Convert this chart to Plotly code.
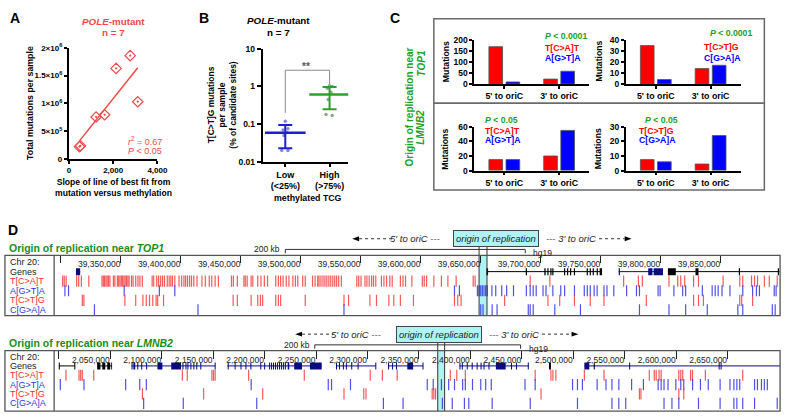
import numpy as np
import plotly.graph_objects as go

# ===================== DATA =====================
# Panel A
a_slope = [480, 520, 1230, 1615, 2133, 2770, 3111]
a_total = [2.20e5, 2.35e5, 7.55e5, 7.95e5, 1.63e6, 1.86e6, 1.03e6]
a_r2 = "0.67"
a_p = "0.05"
a_xticks = [0, 2000, 4000]
a_xticklabels = ["0", "2,000", "4,000"]
a_yticks = [0, 5e5, 1e6, 1.5e6, 2e6]
a_yticklabels = ["0", "5×10<sup>5</sup>", "1×10<sup>6</sup>", "1.5×10<sup>6</sup>", "2×10<sup>6</sup>"]

# Panel B
b_groups = ["Low<br>(&lt;25%)", "High<br>(&gt;75%)"]
b_low = [0.12, 0.075, 0.07, 0.06, 0.05, 0.02, 0.02]
b_high = [1.05, 1.0, 0.9, 0.7, 0.45, 0.18, 0.17]
b_mean = [0.059, 0.61]
b_sd = [0.036, 0.36]
b_yticks = [0.01, 0.1, 1, 10]
b_yticklabels = ["0.01", "0.1", "1", "10"]

# Panel C
c_cats = ["5' to oriC", "3' to oriC"]
c_top1_tcat = [170, 22]
c_top1_agta = [9, 58]
c_top1_tctg = [35, 14]
c_top1_cgaa = [4, 17]
c_lmnb2_tcat = [15, 20]
c_lmnb2_agta = [15, 55]
c_lmnb2_tctg = [7.5, 4.5]
c_lmnb2_cgaa = [6, 24]
c_ticks_tl = [0, 50, 100, 150, 200]
c_ticks_tr = [0, 10, 20, 30, 40]
c_ticks_bl = [0, 20, 40, 60]
c_ticks_br = [0, 10, 20, 30]

# Panel D (positions in kb on chr 20)
d_row_labels = ["Chr 20:", "Genes", "T[C&gt;A]T", "A[G&gt;T]A", "T[C&gt;T]G", "C[G&gt;A]A"]
top_ticks = [39300, 39350, 39400, 39450, 39500, 39550, 39600, 39650, 39700, 39750, 39800, 39850]
bot_ticks = [2000, 2050, 2100, 2150, 2200, 2250, 2300, 2350, 2400, 2450, 2500, 2550, 2600, 2650]
top_origin = [39648.5, 39655.1]
bot_origin = [2368.3, 2375.0]
top_scale_start = 39487
bot_scale_start = 2248.8

top_tcat = [39301.4, 39302.7, 39304.3, 39313.1, 39314.8, 39317.0, 39323.2, 39334.2, 39335.3, 39336.3,
            39337.5, 39338.5, 39339.6, 39340.8, 39343.7, 39344.9, 39347.0, 39348.1, 39349.2, 39350.3,
            39351.4, 39352.5, 39353.5, 39354.7, 39355.8, 39356.8, 39358.8, 39360.1, 39362.3, 39364.2,
            39365.8, 39367.8, 39376.0, 39377.3, 39379.8, 39381.4, 39383.1, 39384.7, 39386.3, 39388.6,
            39390.2, 39391.6, 39392.9, 39394.9, 39398.4, 39400.6, 39402.5, 39403.9, 39405.5, 39407.2,
            39408.8, 39410.7, 39413.4, 39417.5, 39420.3, 39423.6, 39425.7, 39428.5, 39431.2, 39442.1,
            39443.7, 39447.0, 39452.5, 39453.6, 39455.2, 39458.5, 39459.9, 39464.0, 39466.7, 39469.5,
            39472.2, 39479.0, 39481.2, 39483.1, 39485.1, 39487.8, 39490.0, 39493.3, 39495.4, 39497.4,
            39501.5, 39503.6, 39509.7, 39511.8, 39514.0, 39515.1, 39516.7, 39518.4, 39520.0, 39521.6,
            39523.3, 39524.9, 39526.6, 39528.2, 39529.8, 39531.5, 39533.7, 39546.6, 39548.2, 39550.1,
            39553.4, 39555.0, 39556.9, 39558.9, 39560.5, 39562.4, 39567.1, 39569.2, 39571.4, 39574.1,
            39576.1, 39582.9, 39585.1, 39587.2, 39592.5, 39601.2, 39602.8, 39604.8, 39610.8, 39617.1,
            39622.5, 39629.4, 39643.6, 39645.2, 39691.1, 39707.5, 39769.0, 39781.3, 39784.6, 39806.8,
            39814.1, 39816.6, 39819.9, 39827.3, 39831.4, 39851.9, 39865.8, 39868.3, 39875.6, 39878.1,
            39880.6, 39886.3, 39890.4, 39897.0]
top_agta = [39303.3, 39306.3, 39352.7, 39382.0, 39394.9, 39628.0, 39632.1, 39647.1, 39648.5, 39649.9,
            39651.2, 39652.6, 39654.0, 39655.3, 39659.2, 39662.4, 39667.4, 39671.5, 39677.2, 39687.9,
            39691.1, 39693.6, 39696.1, 39701.8, 39704.3, 39710.0, 39716.6, 39719.8, 39728.0, 39736.2,
            39738.7, 39741.2, 39744.4, 39746.9, 39752.6, 39755.1, 39760.8, 39771.5, 39779.7, 39782.2,
            39797.7, 39799.4, 39810.9, 39818.2, 39820.7, 39834.6, 39842.8, 39845.3, 39847.8, 39851.0,
            39857.6, 39868.3, 39876.5, 39879.7, 39882.2, 39894.5, 39896.1]
top_tctg = [39317.8, 39319.1, 39353.3, 39362.3, 39368.3, 39371.1, 39373.8, 39376.5, 39379.3, 39380.6,
            39385.5, 39443.5, 39447.0, 39458.5, 39464.0, 39466.2, 39468.1, 39479.0, 39481.2, 39483.1,
            39503.6, 39535.9, 39539.7, 39557.5, 39563.0, 39573.3, 39577.4, 39582.9, 39593.8, 39628.0,
            39630.7, 39633.5, 39669.8, 39705.9, 39715.7, 39728.0, 39741.2, 39752.6, 39787.9, 39827.3,
            39831.4, 39835.5, 39865.8, 39867.4, 39876.5]
top_cgaa = [39327.9, 39414.2, 39535.9, 39649.9, 39651.8, 39659.4, 39663.5, 39689.5, 39691.1, 39693.6,
            39711.6, 39733.0, 39782.2, 39806.8, 39820.7, 39838.7, 39864.2, 39868.3, 39892.9, 39895.3]

bot_tcat = [2007.0, 2019.7, 2021.3, 2022.9, 2034.0, 2120.1, 2124.9, 2148.8, 2150.4, 2152.0, 2184.5,
            2238.6, 2302.7, 2314.5, 2328.9, 2380.5, 2386.8, 2395.1, 2463.0, 2478.3, 2480.2, 2483.1,
            2510.8, 2529.9, 2573.9, 2578.7, 2580.6, 2583.4, 2585.4, 2602.6, 2604.5, 2606.4, 2614.0,
            2615.9, 2628.4, 2664.7]
bot_agta = [2001.5, 2024.5, 2065.0, 2078.7, 2085.1, 2187.0, 2261.9, 2265.1, 2283.5, 2358.1, 2363.9,
            2371.9, 2378.9, 2384.6, 2392.5, 2395.1, 2402.1, 2410.1, 2414.9, 2420.3, 2453.1, 2463.0,
            2499.3, 2504.1, 2508.9, 2523.2, 2531.8, 2537.6, 2544.3, 2556.7, 2568.2, 2582.5, 2585.4,
            2588.2, 2592.1, 2599.7, 2604.5, 2607.4, 2616.0, 2623.6, 2631.2, 2642.7, 2652.3, 2656.1,
            2659.0, 2661.8, 2676.2, 2679.0, 2682.9, 2685.7, 2688.6]
bot_tctg = [2081.3, 2140.8, 2198.2, 2277.2, 2296.4, 2298.6, 2362.9, 2364.5, 2366.2, 2468.7, 2564.3,
            2565.8, 2602.6, 2607.4]
bot_cgaa = [2082.5, 2121.0, 2192.4, 2315.5, 2334.6, 2372.8, 2382.4, 2394.2, 2398.5, 2421.2, 2458.2,
            2504.1, 2537.6, 2544.3, 2551.0, 2588.2, 2595.9, 2602.6, 2621.7, 2642.7, 2656.1, 2659.0,
            2664.7, 2676.2, 2698.2]

# genes: (start, end, colour key), exons as (start, end)
top_gene_spans = [(39312.5, 39316.0, "navy"), (39655.1, 39751.0, "black"),
                  (39764.9, 39801.8, "navy"), (39805.9, 39899.0, "black")]
top_gene_exons = [
    [(39312.5, 39316.0)],
    [(39654.6, 39656.0), (39687.4, 39688.4), (39702.9, 39704.0), (39705.4, 39706.4), (39707.9, 39708.9),
     (39709.5, 39710.5), (39719.3, 39720.3), (39721.8, 39722.8), (39724.3, 39725.3), (39727.5, 39728.5),
     (39738.2, 39739.2), (39740.7, 39741.7), (39743.2, 39744.2), (39746.5, 39747.5), (39749.0, 39751.0)],
    [(39764.9, 39765.9), (39789.5, 39793.0), (39794.0, 39801.8)],
    [(39805.9, 39812.5), (39828.9, 39831.4), (39865.0, 39866.0), (39897.5, 39898.5)],
]
bot_gene_spans = [(2000.3, 2015.6, "black"), (2037.3, 2051.6, "black"), (2070.7, 2152.0, "navy"),
                  (2163.8, 2255.5, "navy"), (2269.4, 2308.1, "navy"), (2320.5, 2354.0, "navy"),
                  (2389.4, 2456.3, "navy"), (2476.4, 2478.3, "black"), (2510.8, 2701.0, "navy"),
                  (2519.9, 2520.9, "black")]
bot_gene_exons = [
    [(2000.0, 2001.0), (2015.1, 2016.1)],
    [(2037.3, 2040.5), (2042.3, 2045.2), (2047.1, 2050.0), (2051.0, 2051.8)],
    [(2070.7, 2071.7), (2072.5, 2074.3), (2076.3, 2077.3), (2080.1, 2081.1), (2084.9, 2085.9),
     (2095.9, 2100.7), (2109.3, 2118.8), (2120.2, 2121.2), (2123.1, 2124.1), (2125.0, 2126.0),
     (2127.9, 2128.9), (2130.8, 2131.8), (2133.6, 2134.6), (2137.5, 2138.5), (2151.5, 2152.5)],
    [(2164.2, 2165.2), (2170.9, 2171.9), (2176.6, 2177.6), (2181.4, 2182.4), (2186.2, 2187.2),
     (2195.8, 2196.8), (2199.6, 2200.6), (2204.4, 2205.4), (2206.3, 2207.3), (2208.2, 2209.2),
     (2210.1, 2211.1), (2212.0, 2213.0), (2214.0, 2215.0), (2215.9, 2216.9), (2217.8, 2218.8),
     (2219.7, 2220.7), (2222.5, 2224.0), (2228.8, 2236.4), (2244.1, 2255.5)],
    [(2269.4, 2270.4), (2272.3, 2273.3), (2276.1, 2277.1), (2279.0, 2280.0), (2284.2, 2285.2),
     (2290.4, 2291.4), (2307.6, 2308.6)],
    [(2320.0, 2321.0), (2323.9, 2324.9), (2327.7, 2328.7), (2338.7, 2344.4), (2353.5, 2354.5)],
    [(2389.4, 2390.4), (2391.7, 2392.7), (2396.5, 2397.5), (2401.3, 2402.3), (2406.1, 2407.1),
     (2409.9, 2410.9), (2412.8, 2413.8), (2417.6, 2418.6), (2424.8, 2434.3), (2439.5, 2440.5),
     (2444.3, 2445.3), (2455.8, 2456.8)],
    [(2476.4, 2478.3)],
    [(2510.8, 2515.6), (2554.3, 2555.3), (2641.3, 2642.3), (2643.2, 2644.2)],
    [(2519.9, 2520.9)],
]

# ===================== STYLE / LAYOUT HELPERS =====================
W, H = 796, 419
def px(x): return x / W
def py(y): return 1 - y / H

FONT = "Liberation Sans, Arial, Helvetica, sans-serif"
A_RED = "#f04a4a"
B_BLUE = "#1e1ed2"
B_GREEN = "#2e9e2e"
GREEN = "#22a022"
C_RED = "#ff0000"
C_BLUE = "#0000ff"
D_RED = "rgba(245,60,60,0.85)"
D_BLUE = "rgba(50,50,225,0.85)"
GENE_COL = {"navy": "#0b0b80", "black": "#000000"}

fig = go.Figure()
annotations = []
shapes = []

def ann(text, x, y, size=10, color="black", bold=False, italic=False, xanchor="center",
        yanchor="middle", angle=0, **kw):
    annotations.append(dict(
        text=text, x=px(x), y=py(y), xref="paper", yref="paper", showarrow=False,
        font=dict(family=FONT, size=size, color=color,
                  weight="bold" if bold else "normal", style="italic" if italic else "normal"),
        xanchor=xanchor, yanchor=yanchor, textangle=angle, **kw))

def gp_axis(domain, rng, lw=2, fsize=8.5, tl=4, **kw):
    d = dict(domain=domain, range=rng, showline=True, linewidth=lw, linecolor="black",
             ticks="outside", ticklen=tl, tickwidth=1.5, tickcolor="black", showgrid=False,
             zeroline=False, fixedrange=True,
             tickfont=dict(family=FONT, size=fsize, color="black", weight="bold"))
    d.update(kw)
    return d

# ===================== PANEL A =====================
fig.add_trace(go.Scatter(
    x=a_slope, y=a_total, mode="markers", xaxis="x", yaxis="y",
    marker=dict(symbol="diamond-open-dot", size=8, color=A_RED, line=dict(width=1.2, color=A_RED))))
coef = np.polyfit(a_slope, a_total, 1)
fit_x = np.array([min(a_slope), max(a_slope)])
fig.add_trace(go.Scatter(x=fit_x, y=np.polyval(coef, fit_x), mode="lines", xaxis="x", yaxis="y",
                         line=dict(color=A_RED, width=1.5)))

# ===================== PANEL B =====================
b_jit = [0.0, 0.06, -0.05, 0.03, -0.03, -0.08, 0.06]
b_pt_cols = ["#8a8ad0", "#8aaa8a"]
for i, vals in enumerate([b_low, b_high]):
    fig.add_trace(go.Scatter(
        x=[i + j for j in b_jit], y=vals, mode="markers", xaxis="x2", yaxis="y2",
        marker=dict(symbol="circle", size=3.5, color=b_pt_cols[i])))
for i, col in enumerate([B_BLUE, B_GREEN]):
    fig.add_trace(go.Scatter(
        x=[i], y=[b_mean[i]], mode="markers", xaxis="x2", yaxis="y2",
        marker=dict(symbol="line-ew", size=29, color=col, line=dict(width=2.5, color=col)),
        error_y=dict(type="data", symmetric=False, array=[b_sd[i]], arrayminus=[b_sd[i]],
                     color=col, thickness=2, width=7)))
fig.add_trace(go.Scatter(x=[0, 0, 1, 1], y=[0.2, 2.7, 2.7, 1.15], mode="lines", xaxis="x2", yaxis="y2",
                         line=dict(color="#8a8a8a", width=1)))

# ===================== PANEL C =====================
c_specs = [
    ("x3", "y3", c_top1_tcat, c_top1_agta),
    ("x4", "y4", c_top1_tctg, c_top1_cgaa),
    ("x5", "y5", c_lmnb2_tcat, c_lmnb2_agta),
    ("x6", "y6", c_lmnb2_tctg, c_lmnb2_cgaa),
]
for xa, ya, red, blue in c_specs:
    for vals, col, grp in [(red, C_RED, "r"), (blue, C_BLUE, "b")]:
        fig.add_trace(go.Bar(x=[0, 1], y=vals, xaxis=xa, yaxis=ya, offsetgroup=grp,
                             marker=dict(color=col, line=dict(color="#555555", width=0.8))))

# ===================== PANEL D =====================
def add_tracks(xa, ya, rows, spans, exons):
    for r, (vals, col) in enumerate(rows):
        fig.add_trace(go.Scatter(
            x=vals, y=[r + 2] * len(vals), mode="markers", xaxis=xa, yaxis=ya,
            marker=dict(symbol="line-ns", size=8, color=col, line=dict(width=1.2, color=col))))
    for key in ["navy", "black"]:
        lx, ly, ex, ey = [], [], [], []
        for (s, e, c), ex_list in zip(spans, exons):
            if c != key:
                continue
            lx += [s, e, None]; ly += [1, 1, None]
            for a, b in ex_list:
                ex += [a, b, None]; ey += [1, 1, None]
        fig.add_trace(go.Scatter(x=lx, y=ly, mode="lines", xaxis=xa, yaxis=ya,
                                 line=dict(color=GENE_COL[key], width=1)))
        fig.add_trace(go.Scatter(x=ex, y=ey, mode="lines", xaxis=xa, yaxis=ya,
                                 line=dict(color=GENE_COL[key], width=7)))

add_tracks("x7", "y7", [(top_tcat, D_RED), (top_agta, D_BLUE), (top_tctg, D_RED), (top_cgaa, D_BLUE)],
           top_gene_spans, top_gene_exons)
add_tracks("x8", "y8", [(bot_tcat, D_RED), (bot_agta, D_BLUE), (bot_tctg, D_RED), (bot_cgaa, D_BLUE)],
           bot_gene_spans, bot_gene_exons)

# ===================== LAYOUT =====================
lay = dict(width=W, height=H, margin=dict(l=0, r=0, t=0, b=0), paper_bgcolor="white",
           plot_bgcolor="rgba(0,0,0,0)", showlegend=False, barmode="group", bargap=0.375,
           bargroupgap=0.2, font=dict(family=FONT))

lay["xaxis"] = gp_axis([px(68), px(158)], [0, 4000], anchor="y", tickvals=a_xticks, ticktext=a_xticklabels,
                       tl=3, fsize=8)
lay["yaxis"] = gp_axis([py(157), py(43)], [0, 2e6], anchor="x", tickvals=a_yticks, ticktext=a_yticklabels,
                       tl=3, fsize=8)
lay["xaxis2"] = gp_axis([px(265), px(352)], [-0.511, 1.422], anchor="y2", tickvals=[0, 1], ticktext=b_groups,
                        fsize=9, tl=3)
lay["yaxis2"] = gp_axis([py(160), py(44)], [-2, 1], anchor="x2", type="log", tickvals=b_yticks,
                        ticktext=b_yticklabels)

c_dom = [([480, 597], [80, 35], [0, 200], c_ticks_tl),
         ([634, 751], [80, 35], [0, 40], c_ticks_tr),
         ([480, 597], [169, 124], [0, 60], c_ticks_bl),
         ([634, 751], [169, 124], [0, 30], c_ticks_br)]
for k, (xd, yd, yr, yt) in enumerate(c_dom):
    n = k + 3
    lay[f"xaxis{n}"] = gp_axis([px(xd[0]), px(xd[1])], [-0.55, 1.55], lw=1.6, anchor=f"y{n}",
                               tickvals=[0, 1], ticktext=c_cats, fsize=8.8, tl=3)
    lay[f"yaxis{n}"] = gp_axis([py(yd[0]), py(yd[1])], yr, lw=1.6, anchor=f"x{n}", tickvals=yt, tl=3)

def d_xaxis(domain, rng, ticks, anchor):
    return dict(domain=domain, range=rng, side="top", anchor=anchor, showline=False, showgrid=False,
                zeroline=False, ticks="inside", ticklen=8, tickwidth=1, tickcolor="#222",
                tickvals=ticks, ticktext=[f"{int(round(v * 1000)):,}" for v in ticks],
                ticklabelposition="inside left", fixedrange=True,
                tickfont=dict(family=FONT, size=8.5, color="#222"))

lay["xaxis7"] = d_xaxis([px(53), px(791)], [39294.3, 39899.4], top_ticks, "y7")
lay["yaxis7"] = dict(domain=[py(318), py(256)], range=[5.61, -0.714], visible=False, anchor="x7",
                     fixedrange=True)
lay["xaxis8"] = d_xaxis([px(53), px(791)], [1995.5, 2701.0], bot_ticks, "y8")
lay["yaxis8"] = dict(domain=[py(416), py(354)], range=[5.83, -0.625], visible=False, anchor="x8",
                     fixedrange=True)

# ---------- Panel text ----------
for letter, x, y in [("A", 6, 12), ("B", 198, 12), ("C", 392, 12), ("D", 4, 230)]:
    ann(letter, x, y, size=14, bold=True, xanchor="left")

ann("<i>POLE</i>-mutant", 113, 16, size=9.8, color=A_RED, bold=True)
ann("n = 7", 113, 27, size=9.8, color=A_RED, bold=True)
ann(f"<i>r</i><sup>2</sup> = {a_r2}", 126, 139, size=9, color=A_RED, xanchor="left")
ann(f"<i>P</i> &lt; {a_p}", 126, 149, size=9, color=A_RED, xanchor="left")
ann("Total mutations per sample", 29, 100, size=8.8, bold=True, angle=-90)
ann("Slope of line of best fit from<br>mutation versus methylation", 113, 186, size=8.6, bold=True)

ann("<i>POLE</i>-mutant", 281, 15, size=9.8, bold=True)
ann("n = 7", 281, 27, size=9.8, bold=True)
ann("T[C&gt;T]G mutations<br>per sample<br>(% of candidate sites)", 224, 101, size=8.5, bold=True, angle=-90)
ann("methylated TCG", 311, 197, size=8.8, bold=True)
ann("**", 309, 62, size=10, color="#555555", bold=True)

ann("Origin of replication near", 414, 104, size=10, color=GREEN, bold=True, angle=-90)
ann("<i>TOP1</i>", 426, 59, size=10, color=GREEN, bold=True, angle=-90)
ann("<i>LMNB2</i>", 426, 125, size=10, color=GREEN, bold=True, angle=-90)
for x in [451, 606]:
    for y in [57, 147]:
        ann("Mutations", x, y, size=8.7, bold=True, angle=-90)

ann("<i>P</i> &lt; 0.0001", 550, 31, size=8.7, color=GREEN, bold=True, xanchor="left")
ann("T[C&gt;A]T", 550, 43, size=8.7, color=C_RED, bold=True, xanchor="left")
ann("A[G&gt;T]A", 550, 53, size=8.7, color=C_BLUE, bold=True, xanchor="left")
ann("<i>P</i> &lt; 0.0001", 718, 28, size=8.7, color=GREEN, bold=True, xanchor="left")
ann("T[C&gt;T]G", 712, 42, size=8.7, color=C_RED, bold=True, xanchor="left")
ann("C[G&gt;A]A", 712, 53, size=8.7, color=C_BLUE, bold=True, xanchor="left")
ann("<i>P</i> &lt; 0.05", 489, 117, size=8.7, color=GREEN, bold=True, xanchor="left")
ann("T[C&gt;A]T", 489, 128, size=8.7, color=C_RED, bold=True, xanchor="left")
ann("A[G&gt;T]A", 489, 138, size=8.7, color=C_BLUE, bold=True, xanchor="left")
ann("<i>P</i> &lt; 0.05", 652, 117, size=8.7, color=GREEN, bold=True, xanchor="left")
ann("T[C&gt;T]G", 646, 128, size=8.7, color=C_RED, bold=True, xanchor="left")
ann("C[G&gt;A]A", 646, 138, size=8.7, color=C_BLUE, bold=True, xanchor="left")

shapes.append(dict(type="rect", xref="paper", yref="paper", x0=px(439), x1=px(775), y0=py(100), y1=py(13),
                   line=dict(color="#6a6a6a", width=1.5)))
shapes.append(dict(type="rect", xref="paper", yref="paper", x0=px(439), x1=px(775), y0=py(189), y1=py(100),
                   line=dict(color="#6a6a6a", width=1.5)))

# ---------- Panel D decorations ----------
ann("Origin of replication near <i>TOP1</i>", 5, 249, size=10.5, color="#1c8c1c", bold=True, xanchor="left")
ann("Origin of replication near <i>LMNB2</i>", 5, 346, size=10.5, color="#1c8c1c", bold=True, xanchor="left")

row_cols = ["#222222", "#222222", "#ee3333", "#3333dd", "#ee3333", "#3333dd"]
for ya in ["y7", "y8"]:
    for i, lab in enumerate(d_row_labels):
        annotations.append(dict(text=lab, x=px(6), y=i, xref="paper", yref=ya, showarrow=False,
                                xanchor="left", yanchor="middle",
                                font=dict(family=FONT, size=9, color=row_cols[i])))

for (top, bot, xa, org, lab_bot) in [(256, 318, "x7", top_origin, 247), (354, 416, "x8", bot_origin, 345)]:
    shapes.append(dict(type="rect", xref=xa, yref="paper", x0=org[0], x1=org[1], y0=py(bot), y1=py(top),
                       fillcolor="#aef2f2", line=dict(width=0), layer="below"))
    for xv in org:
        shapes.append(dict(type="line", xref=xa, yref="paper", x0=xv, x1=xv, y0=py(bot), y1=py(lab_bot),
                           line=dict(color="#333333", width=1)))
    shapes.append(dict(type="rect", xref="paper", yref="paper", x0=px(3), x1=px(791), y0=py(bot), y1=py(top),
                       line=dict(color="#555555", width=1.3)))
    shapes.append(dict(type="line", xref="paper", yref="paper", x0=px(53), x1=px(53), y0=py(bot), y1=py(top),
                       line=dict(color="#555555", width=1.3)))

# scale bars
for xa, start, yline in [("x7", top_scale_start, 250), ("x8", bot_scale_start, 348)]:
    end = start + 200
    shapes.append(dict(type="line", xref=xa, yref="paper", x0=start, x1=end, y0=py(yline), y1=py(yline),
                       line=dict(color="#333333", width=1)))
    for xv in [start, end]:
        shapes.append(dict(type="line", xref=xa, yref="paper", x0=xv, x1=xv, y0=py(yline), y1=py(yline + 4),
                           line=dict(color="#333333", width=1)))
    annotations.append(dict(text="200 kb", x=start, y=py(yline), xref=xa, yref="paper", showarrow=False,
                            xanchor="right", yanchor="middle", xshift=-3,
                            font=dict(family=FONT, size=8.5, color="#222")))
    annotations.append(dict(text="hg19", x=end, y=py(yline + 4), xref=xa, yref="paper", showarrow=False,
                            xanchor="left", yanchor="middle", xshift=6,
                            font=dict(family=FONT, size=8.5, color="#222")))

def arrow_row(y, ah_l, txt5_r, box_c, txt3_l, ah_r):
    shapes.append(dict(type="path", xref="paper", yref="paper",
                       path=f"M {px(ah_l)},{py(y)} L {px(ah_l + 7)},{py(y - 2.5)} L {px(ah_l + 7)},{py(y + 2.5)} Z",
                       fillcolor="black", line=dict(width=0)))
    shapes.append(dict(type="line", xref="paper", yref="paper", x0=px(ah_l + 7), x1=px(txt5_r - 50),
                       y0=py(y), y1=py(y), line=dict(color="#333", width=1, dash="dot")))
    ann("5' to oriC ---", txt5_r, y, size=9.5, italic=True, xanchor="right", color="#222")
    ann("origin of replication", box_c, y, size=9.5, italic=True, color="#222", bgcolor="#aef4f4",
        bordercolor="#444444", borderwidth=1, borderpad=2)
    ann("--- 3' to oriC", txt3_l, y, size=9.5, italic=True, xanchor="left", color="#222")
    shapes.append(dict(type="line", xref="paper", yref="paper", x0=px(txt3_l + 56), x1=px(ah_r - 7),
                       y0=py(y), y1=py(y), line=dict(color="#333", width=1, dash="dot")))
    shapes.append(dict(type="path", xref="paper", yref="paper",
                       path=f"M {px(ah_r)},{py(y)} L {px(ah_r - 7)},{py(y - 2.5)} L {px(ah_r - 7)},{py(y + 2.5)} Z",
                       fillcolor="black", line=dict(width=0)))

arrow_row(239, 356, 447, 502, 551, 640)
arrow_row(337, 298, 387, 444, 493, 586)

lay["annotations"] = annotations
lay["shapes"] = shapes
fig.update_layout(**lay)
fig.write_html("out.html", config={"displayModeBar": False},
               post_script="document.body.style.margin='0';document.body.style.overflow='hidden';")
